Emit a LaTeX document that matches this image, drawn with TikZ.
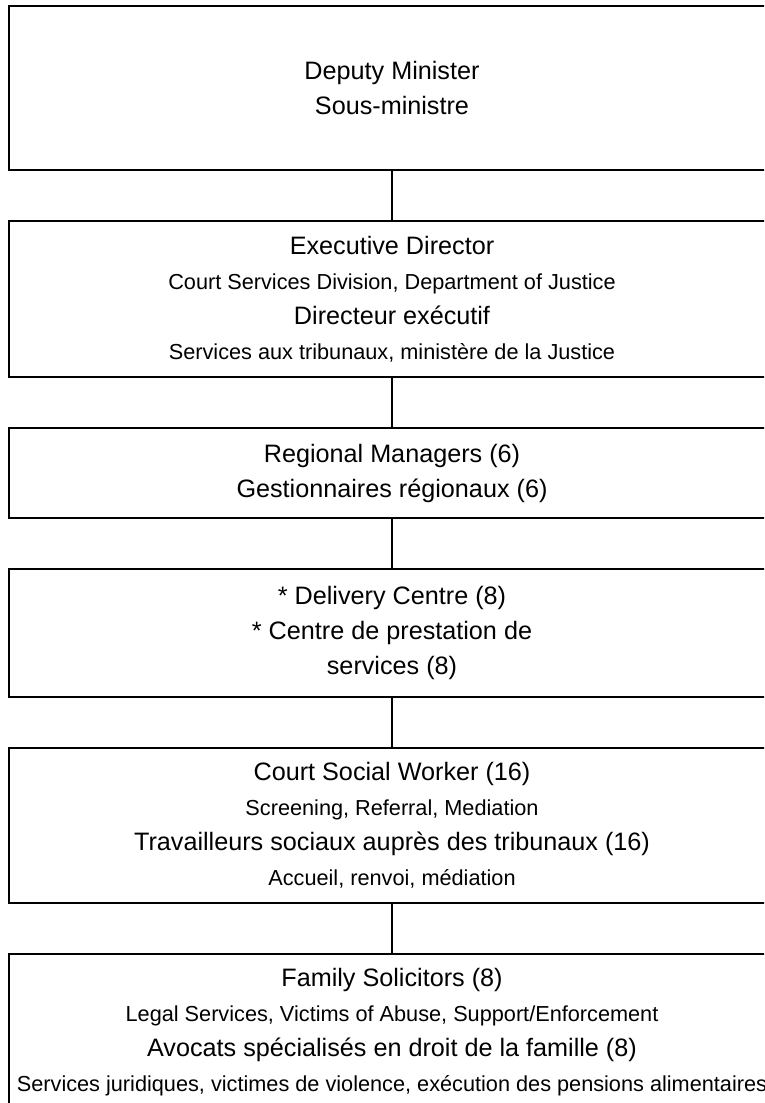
\documentclass[tikz,border=0pt]{standalone}
\usepackage{fontspec}
\setmainfont{Liberation Sans}
\usetikzlibrary{positioning}
\newcommand{\bigline}{\fontsize{25.2}{35}\selectfont}
\newcommand{\smallline}{\fontsize{21.7}{35}\selectfont}

\begin{document}
\begin{tikzpicture}[x=1pt, y=1pt, node distance=49pt,
  orgbox/.style={draw=black, line width=2pt, minimum width=766pt, inner sep=0pt, align=center, font=\bigline},
  link/.style={draw=black, line width=2pt}]
  \useasboundingbox (0,0) rectangle (764,-1103);
  \clip (0,0) rectangle (764,-1103);
  \node[orgbox, minimum height=164pt] (dm) at (392,-88) {Deputy Minister\\Sous-ministre};
  \node[orgbox, minimum height=156pt, below=of dm] (ed) {Executive Director\\
    {\smallline Court Services Division, Department of Justice}\\
    Directeur exécutif\\
    {\smallline Services aux tribunaux, ministère de la Justice}};
  \node[orgbox, minimum height=90pt, below=of ed] (rm) {Regional Managers (6)\\Gestionnaires régionaux (6)};
  \node[orgbox, minimum height=128pt, below=of rm] (dc) {* Delivery Centre (8)\\* Centre de prestation de\\services (8)};
  \node[orgbox, minimum height=155pt, below=of dc] (sw) {Court Social Worker (16)\\
    {\smallline Screening, Referral, Mediation}\\
    Travailleurs sociaux auprès des tribunaux (16)\\
    {\smallline Accueil, renvoi, médiation}};
  \node[orgbox, minimum height=156pt, below=of sw] (fs) {Family Solicitors (8)\\
    {\smallline Legal Services, Victims of Abuse, Support/Enforcement}\\
    Avocats spécialisés en droit de la famille (8)\\
    {\smallline Services juridiques, victimes de violence, exécution des pensions alimentaires}};
  \draw[link] (dm) -- (ed);
  \draw[link] (ed) -- (rm);
  \draw[link] (rm) -- (dc);
  \draw[link] (dc) -- (sw);
  \draw[link] (sw) -- (fs);
\end{tikzpicture}
\end{document}
